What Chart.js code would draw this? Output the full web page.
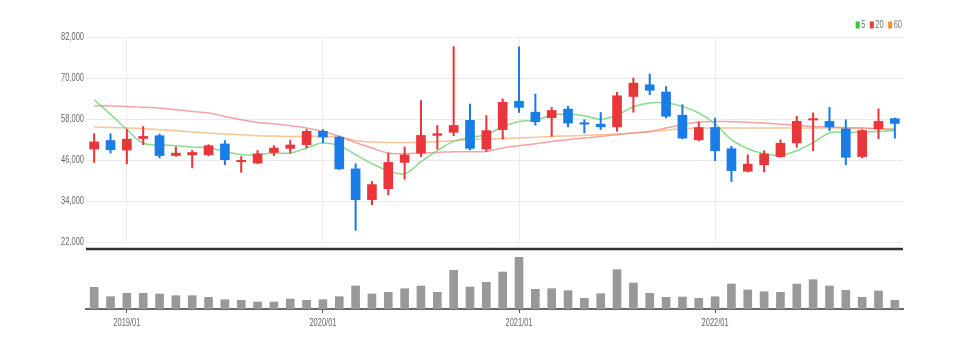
<!DOCTYPE html>
<html>
<head>
<meta charset="utf-8">
<script src="https://cdn.jsdelivr.net/npm/chart.js@4.4.1/dist/chart.umd.min.js"></script>
<style>
  html, body { margin: 0; padding: 0; background: #fff; }
  #wrap { position: relative; width: 964px; height: 347px; overflow: hidden; }
  #priceChart { position: absolute; left: 0; top: 0; }
  #volChart { position: absolute; left: 0; top: 247px; }
</style>
</head>
<body>
<div id="wrap">
  <canvas id="priceChart" width="964" height="250"></canvas>
  <canvas id="volChart" width="964" height="100"></canvas>
</div>
<script>
// monthly candles, 2018/11 .. 2022/12
const months = [
  '2018/11','2018/12',
  '2019/01','2019/02','2019/03','2019/04','2019/05','2019/06','2019/07','2019/08','2019/09','2019/10','2019/11','2019/12',
  '2020/01','2020/02','2020/03','2020/04','2020/05','2020/06','2020/07','2020/08','2020/09','2020/10','2020/11','2020/12',
  '2021/01','2021/02','2021/03','2021/04','2021/05','2021/06','2021/07','2021/08','2021/09','2021/10','2021/11','2021/12',
  '2022/01','2022/02','2022/03','2022/04','2022/05','2022/06','2022/07','2022/08','2022/09','2022/10','2022/11','2022/12'
];
const opens = [
  49200, 51700, 48900, 52300, 53100, 47300, 47500, 47500, 50700, 45500, 45100, 48200, 49400, 50500, 54400, 52700,
  43400, 34400, 37600, 45300, 48000, 53200, 54100, 57600, 49200, 54900, 63200, 60000, 58400, 60900, 56900, 56500,
  55700, 64600, 68000, 65900, 59100, 51900, 55500, 49300, 42700, 44600, 47000, 51000, 57700, 57300, 55100, 47000,
  55100, 58100
];
const highs = [
  53700, 53700, 55000, 55800, 53600, 49800, 48800, 50500, 51700, 47000, 48800, 50200, 51700, 54900, 54900, 53000,
  44900, 39700, 48000, 49800, 63400, 56100, 79200, 62400, 59000, 63900, 79100, 65300, 61400, 61700, 57800, 59900,
  65800, 70000, 71200, 67500, 62200, 57100, 58300, 50000, 47500, 48700, 51900, 58800, 59800, 61400, 57800, 54900,
  61000, 58300
];
const lows = [
  45300, 48000, 44900, 50500, 46600, 47100, 43700, 47200, 44600, 42400, 44900, 47300, 48000, 49500, 51000, 43200,
  25400, 32900, 35800, 40400, 47000, 49200, 53100, 49000, 48500, 52100, 59900, 56200, 52900, 55700, 53900, 54900,
  54400, 60000, 65100, 58300, 52200, 51600, 45800, 39700, 42500, 42500, 46800, 49700, 48700, 54600, 44600, 46600,
  52200, 52400
];
const closes = [
  51300, 49000, 52100, 52900, 47300, 48000, 48200, 50200, 46100, 45900, 47800, 49500, 50400, 54400, 52700, 43400,
  34400, 38800, 45300, 47500, 53200, 53700, 56100, 49400, 54600, 62900, 61400, 57200, 60500, 56800, 56500, 55700,
  64800, 68500, 66400, 58800, 52400, 55500, 48700, 42900, 44800, 47800, 50900, 57300, 58100, 55700, 46800, 54600,
  57300, 56700
];
// volume, thousand shares
const volumes = [
  2170, 1230, 1570, 1570, 1500, 1330, 1330, 1170, 930, 870, 700, 700, 1000, 870, 930, 1230,
  2300, 1500, 1670, 2030, 2300, 1670, 3870, 2200, 2670, 3700, 5170, 1970, 2030, 1830, 1070, 1530,
  3930, 2600, 1570, 1170, 1200, 1070, 1230, 2500, 1900, 1730, 1670, 2500, 2930, 2300, 1870, 1170,
  1800, 870
];
// moving averages (5 / 20 / 60 months)
const ma5 = [
  63650, 59350, 54950, 50900, 50480, 50180, 49790, 49510, 48510, 47550, 47550, 48050, 48050, 49510, 50970, 50180,
  47550, 44920, 42870, 41990, 45500, 48720, 51440, 52580, 53400, 55750, 57300, 57650, 59110, 59490, 58970, 57940,
  59110, 61600, 62680, 62680, 61690, 59760, 56620, 51940, 49310, 47840, 47400, 48720, 51060, 53900, 54080, 54190,
  54370, 54570
];
const ma20 = [
  61890, 61800, 61690, 61450, 61220, 60720, 60220, 59760, 58760, 57790, 57000, 56620, 56040, 55370, 54370, 52910,
  51150, 49510, 48050, 47840, 48050, 48220, 48430, 48430, 48520, 49510, 50180, 50770, 51440, 51940, 52440, 52910,
  53400, 53900, 54370, 55370, 56330, 57120, 57300, 57210, 57060, 56830, 56480, 56180, 55830, 55660, 55450, 55370,
  55160, 54870
];
const ma60 = [
  55660, 55510, 55360, 55160, 54870, 54570, 54190, 53900, 53610, 53400, 53110, 53020, 52910, 52910, 52910, 52670,
  51740, 51270, 51150, 51150, 51270, 51360, 51650, 51940, 52150, 52320, 52440, 52670, 52910, 53050, 53200, 53400,
  53610, 53930, 54280, 54720, 55160, 55360, 55360, 55360, 55360, 55360, 55360, 55360, 55360, 55360, 55300, 55200,
  55140, 55070
];

const FONT = "'Liberation Sans', Arial, sans-serif";
const NARROW = 0.68;   // horizontal squeeze for axis text
const UP = '#e8363a';
const DOWN = '#1a7ce6';
const candleColors = closes.map((c, i) => (c >= opens[i] ? UP : DOWN));
const isYearStart = i => months[i] && months[i].endsWith('/01');

function narrowText(ctx, text, x, y, align, sx) {
  ctx.save();
  ctx.translate(x, y);
  ctx.scale(sx, 1);
  ctx.textAlign = align;
  ctx.textBaseline = 'middle';
  ctx.fillText(text, 0, 0);
  ctx.restore();
}

// price labels on the left, condensed
const priceLabels = {
  id: 'priceLabels',
  afterDraw(chart) {
    const { ctx, chartArea } = chart;
    const scale = chart.scales.y;
    ctx.save();
    ctx.font = '11px ' + FONT;
    ctx.fillStyle = '#666';
    scale.ticks.forEach(t => {
      narrowText(ctx, t.value.toLocaleString('en-US'), chartArea.left - 2, scale.getPixelForValue(t.value), 'right', NARROW);
    });
    ctx.restore();
  }
};

// small "■5 ■20 ■60" legend in the top right corner
const maLegend = {
  id: 'maLegend',
  afterDraw(chart) {
    const { ctx, chartArea } = chart;
    const items = chart.data.datasets.filter(d => d.legendColor);
    const sx = 0.75;
    ctx.save();
    ctx.font = '10px ' + FONT;
    let x = chartArea.right - 1;
    const y = 25;
    for (let i = items.length - 1; i >= 0; i--) {
      const w = ctx.measureText(items[i].label).width * sx;
      x -= w;
      ctx.fillStyle = '#777';
      narrowText(ctx, items[i].label, x, y, 'left', sx);
      x -= 5.5;
      ctx.fillStyle = items[i].legendColor;
      ctx.fillRect(x, y - 3.5, 4, 7);
      x -= 4.5;
    }
    ctx.restore();
  }
};

new Chart(document.getElementById('priceChart'), {
  type: 'bar',
  data: {
    labels: months,
    datasets: [
      {
        label: 'body',
        data: opens.map((o, i) => [o, closes[i]]),
        backgroundColor: candleColors,
        barThickness: 9,
        grouped: false,
        order: 0
      },
      {
        label: 'wick',
        data: lows.map((l, i) => [l, highs[i]]),
        backgroundColor: candleColors,
        barThickness: 1.4,
        grouped: false,
        order: 1
      },
      {
        type: 'line', label: '5', data: ma5, legendColor: '#3cc43c',
        borderColor: 'rgba(120, 212, 120, 0.85)', borderWidth: 1.5,
        pointRadius: 0, tension: 0.4, order: 2
      },
      {
        type: 'line', label: '20', data: ma20, legendColor: '#e83c3c',
        borderColor: 'rgba(240, 140, 140, 0.8)', borderWidth: 1.5,
        pointRadius: 0, tension: 0.4, order: 3
      },
      {
        type: 'line', label: '60', data: ma60, legendColor: '#f7902c',
        borderColor: 'rgba(248, 185, 130, 0.85)', borderWidth: 1.5,
        pointRadius: 0, tension: 0.4, order: 4
      }
    ]
  },
  options: {
    responsive: false,
    animation: false,
    devicePixelRatio: 1,
    layout: { padding: { left: 0, right: 61, top: 37, bottom: 8 } },
    plugins: { legend: { display: false }, tooltip: { enabled: false } },
    scales: {
      x: {
        offset: true,
        grid: {
          offset: false,
          drawTicks: false,
          color: ctx => (isYearStart(ctx.index) ? '#ececec' : 'rgba(0,0,0,0)')
        },
        border: { display: false },
        ticks: { display: false, autoSkip: false },
        afterFit: s => { s.height = 0; }
      },
      y: {
        min: 22000,
        max: 82000,
        ticks: { stepSize: 12000, display: false },
        grid: { drawTicks: false, color: '#ebebeb' },
        border: { display: false },
        afterFit: s => { s.width = 86; }
      }
    }
  },
  plugins: [priceLabels, maLegend]
});

// dark rule between price and volume panels, plus condensed month labels
const volumeDecor = {
  id: 'volumeDecor',
  afterDraw(chart) {
    const { ctx, chartArea } = chart;
    ctx.save();
    ctx.strokeStyle = '#333';
    ctx.lineWidth = 2.5;
    ctx.beginPath();
    ctx.moveTo(chartArea.left, chartArea.top - 2);
    ctx.lineTo(chartArea.right, chartArea.top - 2);
    ctx.stroke();

    const xs = chart.scales.x;
    ctx.font = '11px ' + FONT;
    ctx.fillStyle = '#666';
    months.forEach((m, i) => {
      if (isYearStart(i)) narrowText(ctx, m, xs.getPixelForValue(i), chartArea.bottom + 14, 'center', NARROW);
    });
    ctx.restore();
  }
};

new Chart(document.getElementById('volChart'), {
  type: 'bar',
  data: {
    labels: months,
    datasets: [{ data: volumes, backgroundColor: '#999', barThickness: 8 }]
  },
  options: {
    responsive: false,
    animation: false,
    devicePixelRatio: 1,
    layout: { padding: { left: 86, right: 61, top: 4, bottom: 0 } },
    plugins: { legend: { display: false }, tooltip: { enabled: false } },
    scales: {
      x: {
        offset: true,
        grid: {
          offset: false,
          drawOnChartArea: false,
          tickLength: 4,
          color: ctx => (isYearStart(ctx.index) ? '#555' : 'rgba(0,0,0,0)')
        },
        border: { color: '#6a6a6a', width: 2 },
        ticks: { display: false, autoSkip: false },
        afterFit: s => { s.height = 38; }
      },
      y: { display: false, min: 0, max: 5800 }
    }
  },
  plugins: [volumeDecor]
});
</script>
</body>
</html>
